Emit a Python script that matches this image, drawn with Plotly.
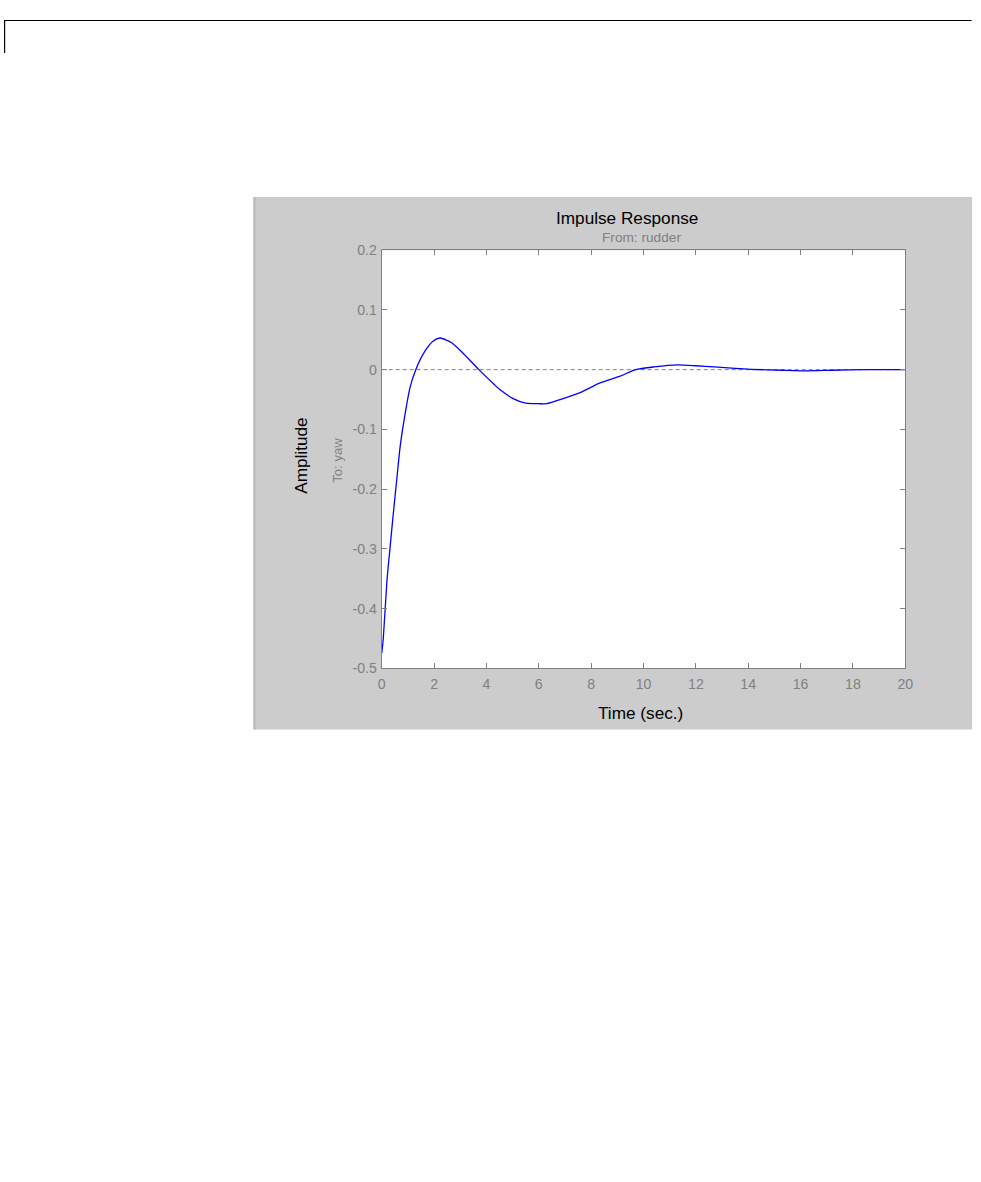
import plotly.graph_objects as go

W, H = 981, 1182

time_s = [0, 0.06, 0.2, 0.32, 0.44, 0.57, 0.7, 0.89, 1.08, 1.3, 1.65, 1.97, 2.23,
          2.67, 3.1, 3.71, 4.3, 4.5, 5.0, 5.5, 6.0, 6.3, 6.9, 7.6, 8.3, 9.1, 9.7,
          10.4, 11.3, 12.0, 12.7, 13.5, 14.1, 15.3, 16.2, 17.2, 18.5, 20]
amplitude = [-0.475, -0.45, -0.353, -0.297, -0.242, -0.186, -0.130, -0.075, -0.030,
             0.0, 0.031, 0.048, 0.053, 0.045, 0.028, 0.0, -0.025, -0.033, -0.048,
             -0.056, -0.057, -0.057, -0.049, -0.038, -0.023, -0.011, 0.0, 0.0045,
             0.008, 0.0065, 0.0045, 0.002, 0.0005, -0.001, -0.002, -0.001, 0.0, 0.0]

x_ticks = [0, 2, 4, 6, 8, 10, 12, 14, 16, 18, 20]
y_ticks = [-0.5, -0.4, -0.3, -0.2, -0.1, 0, 0.1, 0.2]
y_tick_labels = ["-0.5", "-0.4", "-0.3", "-0.2", "-0.1", "0", "0.1", "0.2"]

FONT = "Liberation Sans, Arial, Helvetica, sans-serif"
GRAY = "#808080"

# compensation for the observed rendering scale/offset
SX, OX = 0.9885, 3.7
SY, OY = 0.987, 7.0
K = 1 / 0.988


def px(x):
    return max((x - OX) / SX, 0.6) / W


def py(y):
    return 1 - ((y - OY) / SY) / H


def fs(s):
    return round(s * K, 2)


fig = go.Figure()
fig.add_trace(go.Scatter(x=[0, 20], y=[0, 0], mode="lines",
                         line=dict(color=GRAY, width=1, dash="4px,3px"),
                         hoverinfo="skip", showlegend=False))
fig.add_trace(go.Scatter(x=time_s, y=amplitude, mode="lines",
                         line=dict(color="#0000ff", width=1.3, shape="spline", smoothing=0.6),
                         showlegend=False))

axis_common = dict(showline=True, linecolor=GRAY, linewidth=1, mirror="ticks",
                   ticks="inside", ticklen=5, tickcolor=GRAY, tickwidth=1,
                   showgrid=False, zeroline=False,
                   tickfont=dict(family=FONT, size=fs(14), color=GRAY))

fig.update_layout(
    width=W, height=H, autosize=False,
    margin=dict(l=0, r=0, t=0, b=0),
    paper_bgcolor="white", plot_bgcolor="white",
    xaxis=dict(range=[0, 20], tickvals=x_ticks, domain=[px(381.7), px(905.7)],
               ticklabelstandoff=3, **axis_common),
    yaxis=dict(range=[-0.5, 0.2], tickvals=y_ticks, ticktext=y_tick_labels,
               domain=[py(667.7), py(249.3)], ticklabelstandoff=1, **axis_common),
    shapes=[
        dict(type="rect", xref="paper", yref="paper", layer="below",
             x0=px(253), x1=px(972.5), y0=py(729), y1=py(196),
             fillcolor="#cccccc", line=dict(width=0)),
        dict(type="line", xref="paper", yref="paper", layer="below",
             x0=px(254.5), x1=px(254.5), y0=py(729), y1=py(196),
             line=dict(color="#bdbdbd", width=2)),
        dict(type="rect", xref="paper", yref="paper", layer="below",
             x0=px(381.7), x1=px(905.7), y0=py(667.7), y1=py(249.3),
             fillcolor="white", line=dict(width=0)),
        dict(type="line", xref="paper", yref="paper",
             x0=px(1), x1=px(972), y0=py(19.5), y1=py(19.5),
             line=dict(color="black", width=1.2)),
        dict(type="line", xref="paper", yref="paper",
             x0=px(1.5), x1=px(1.5), y0=py(19), y1=py(52),
             line=dict(color="black", width=1.2)),
    ],
    annotations=[
        dict(text="Impulse Response", x=px(627), y=py(217), xref="paper", yref="paper",
             xanchor="center", yanchor="middle", showarrow=False,
             font=dict(family=FONT, size=fs(17), color="black")),
        dict(text="From: rudder", x=px(642), y=py(236.5), xref="paper", yref="paper",
             xanchor="center", yanchor="middle", showarrow=False,
             font=dict(family=FONT, size=fs(13.5), color=GRAY)),
        dict(text="Amplitude", x=px(301.5), y=py(455.5), xref="paper", yref="paper",
             xanchor="center", yanchor="middle", textangle=-90, showarrow=False,
             font=dict(family=FONT, size=fs(17), color="black")),
        dict(text="To: yaw", x=px(338), y=py(460), xref="paper", yref="paper",
             xanchor="center", yanchor="middle", textangle=-90, showarrow=False,
             font=dict(family=FONT, size=fs(13), color=GRAY)),
        dict(text="Time (sec.)", x=px(641), y=py(712), xref="paper", yref="paper",
             xanchor="center", yanchor="middle", showarrow=False,
             font=dict(family=FONT, size=fs(17), color="black")),
    ],
)

fig.write_html(
    "out.html",
    config={"responsive": False, "displayModeBar": False},
    post_script=("document.body.style.margin='0';"
                 "document.documentElement.style.overflow='hidden';"),
)
